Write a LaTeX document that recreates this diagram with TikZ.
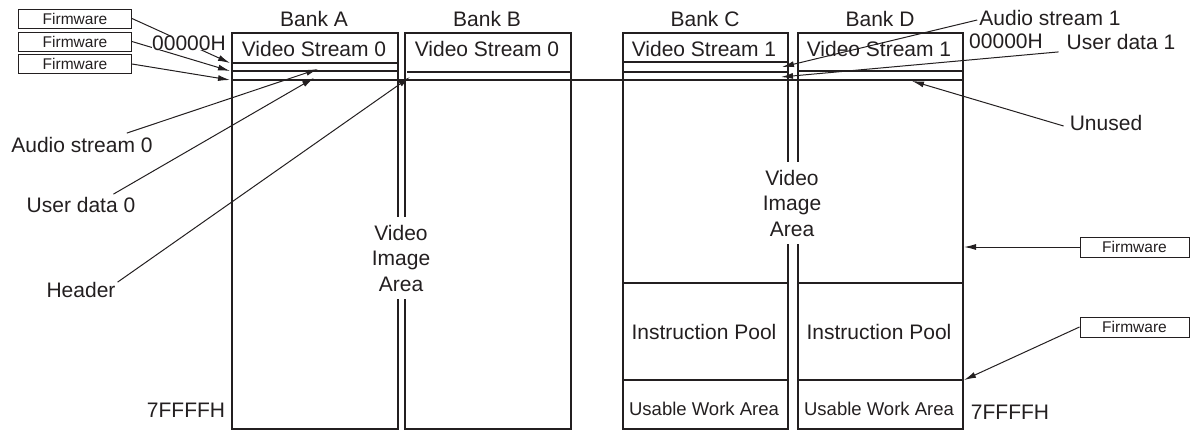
\documentclass[tikz,border=0pt]{standalone}
\usepackage{fontspec}
\setmainfont{Liberation Sans}
\usetikzlibrary{arrows.meta,calc}
\definecolor{ink}{HTML}{231F20}
\begin{document}
\begin{tikzpicture}[x=1pt,y=-1pt,
  bank/.style={draw=ink,line width=2.2pt,inner sep=0pt,anchor=north west},
  sepline/.style={draw=ink,line width=2.2pt},
  longline/.style={draw=ink,line width=1.8pt},
  lbl/.style={text=ink,font=\fontsize{21pt}{25.5pt}\selectfont,inner sep=0pt},
  smalllbl/.style={text=ink,font=\fontsize{18.5pt}{22pt}\selectfont,inner sep=0pt},
  fwbox/.style={draw=ink,line width=1pt,minimum width=113pt,minimum height=19pt,inner sep=0pt,font=\fontsize{15.5pt}{18pt}\selectfont,text=ink},
  arr/.style={draw=ink,line width=1pt,-{Latex[length=12pt,width=6pt]}},
  area/.style={lbl,fill=white,align=center,inner xsep=2pt,inner ysep=8pt},
]
\useasboundingbox (0,0) rectangle (1191,431);

% banks
\node[bank,minimum width=166pt,minimum height=396pt] (bankA) at (231,32) {};
\node[bank,minimum width=166pt,minimum height=396pt] (bankB) at (404,32) {};
\node[bank,minimum width=165pt,minimum height=396pt] (bankC) at (622,32) {};
\node[bank,minimum width=165pt,minimum height=396pt] (bankD) at (797,32) {};

% separators
\draw[sepline] (231,63) -- (397,63);
\draw[sepline] (231,71) -- (397,71);
\draw[sepline] (407,72) -- (570,72);
\draw[sepline] (622,62) -- (787,62);
\draw[sepline] (622,72) -- (787,72);
\draw[sepline] (797,71) -- (962,71);
\draw[longline] (231,80) -- (962,80);
\draw[sepline] (622,283) -- (787,283);
\draw[sepline] (622,380) -- (787,380);
\draw[sepline] (797,283) -- (962,283);
\draw[sepline] (797,380) -- (962,380);

% video image area labels
\node[area] (viaAB) at (401,258) {Video\\Image\\Area};
\node[area] (viaCD) at (792,203) {Video\\Image\\Area};

% bank titles
\node[lbl] (tA) at (314,19) {Bank A};
\node[lbl] (tB) at (487,19) {Bank B};
\node[lbl] (tC) at (705,19) {Bank C};
\node[lbl] (tD) at (880,19) {Bank D};

\node[lbl] (vsA) at (314,49) {Video Stream 0};
\node[lbl] (vsB) at (487,49) {Video Stream 0};
\node[lbl] (vsC) at (704,49) {Video Stream 1};
\node[lbl] (vsD) at (879,49) {Video Stream 1};

\node[lbl] (ipC) at (704,332) {Instruction Pool};
\node[lbl] (ipD) at (879,332) {Instruction Pool};
\node[smalllbl] (uwC) at (704,409) {Usable Work Area};
\node[smalllbl] (uwD) at (879,409) {Usable Work Area};

\node[lbl] (endL) at (186,410) {7FFFFH};
\node[lbl] (endR) at (1010,412) {7FFFFH};
\node[lbl] (startR) at (1006,41) {00000H};

% firmware boxes
\node[fwbox] (fw1) at (75,18.5) {Firmware};
\node[fwbox] (fw2) at (75,41.5) {Firmware};
\node[fwbox] (fw3) at (75,64) {Firmware};
\node[fwbox,minimum width=109pt,minimum height=20pt] (fw4) at (1134.5,247) {Firmware};
\node[fwbox,minimum width=109pt,minimum height=20pt] (fw5) at (1134.5,327) {Firmware};

% side labels
\node[lbl] (as0) at (82,145) {Audio stream 0};
\node[lbl] (ud0) at (81,205) {User data 0};
\node[lbl] (hdr) at (81,290) {Header};
\node[lbl] (as1) at (1050,18) {Audio stream 1};
\node[lbl] (ud1) at (1121,42) {User data 1};
\node[lbl] (unu) at (1106,123) {Unused};

% targets
\coordinate (tA1) at (230,63);
\coordinate (tA2) at (230,71);
\coordinate (tA3) at (230,80);
\coordinate (tAs0) at (318,69);
\coordinate (tUd0) at (314,78);
\coordinate (tHdr) at (410,77);
\coordinate (tAs1) at (782,67);
\coordinate (tUd1) at (781,77);
\coordinate (tUn) at (912,81);
\coordinate (tFw4) at (964,247);
\coordinate (tFw5) at (964,380);

% connectors
\draw[arr] (fw1.east) -- (tA1);
\draw[arr] (fw2.east) -- (tA2);
\draw[arr] (fw3.east) -- (tA3);
\draw[arr] ($(as0.north east)+(-26,-4)$) -- (tAs0);
\draw[arr] ($(ud0.north east)+(-22,-3)$) -- (tUd0);
\draw[arr] ($(hdr.north east)+(2,0)$) -- (tHdr);
\draw[arr] ($(as1.west)+(-2,2)$) -- (tAs1);
\draw[arr] ($(ud1.south west)+(-8,2)$) -- (tUd1);
\draw[arr] ($(unu.west)+(-6,3)$) -- (tUn);
\draw[arr] (fw4.west) -- (tFw4);
\draw[arr] (fw5.west) -- (tFw5);

% start address drawn over the firmware connectors
\node[lbl,fill=white] (startL) at (189,43) {00000H};
\end{tikzpicture}
\end{document}
